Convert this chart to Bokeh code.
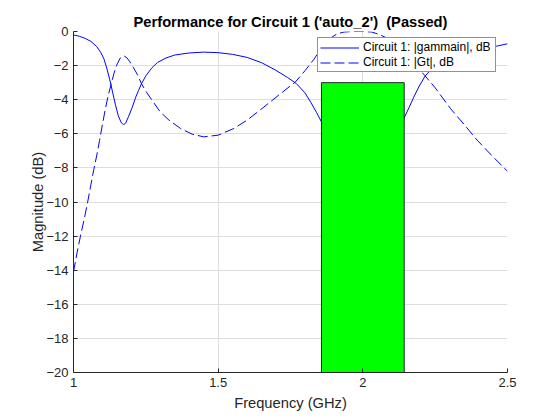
from bokeh.plotting import figure
from bokeh.models import Range1d, FixedTicker, Legend, LegendItem, ColumnDataSource
from bokeh.embed import file_html
from bokeh.resources import INLINE

# |gammain| in dB
freq_gammain = [1.00, 1.02, 1.04, 1.06, 1.08, 1.095, 1.105, 1.115, 1.125, 1.135, 1.145,
                1.155, 1.165, 1.173, 1.180, 1.190, 1.203, 1.215, 1.225, 1.235, 1.25,
                1.27, 1.29, 1.32, 1.35, 1.40, 1.45, 1.50, 1.55, 1.60, 1.65, 1.70, 1.74,
                1.77, 1.80, 1.82, 1.84, 1.857, 1.90, 1.95, 2.00, 2.05, 2.10, 2.142,
                2.16, 2.176, 2.195, 2.215, 2.24, 2.28, 2.33, 2.38, 2.43, 2.465, 2.50]
gammain_db = [-0.20, -0.28, -0.40, -0.58, -0.88, -1.25, -1.60, -2.15, -2.80, -3.55, -4.30,
              -4.95, -5.35, -5.46, -5.38, -5.00, -4.45, -3.85, -3.45, -3.06, -2.60,
              -2.15, -1.82, -1.55, -1.38, -1.26, -1.21, -1.24, -1.34, -1.52, -1.83, -2.28, -2.70,
              -3.05, -3.60, -4.15, -4.75, -5.30, -6.90, -8.30, -8.80, -8.20, -6.80, -5.10,
              -4.45, -3.85, -3.20, -2.62, -2.15, -1.70, -1.32, -1.10, -0.95, -0.85, -0.72]

# |Gt| in dB
freq_gt = [1.00, 1.012, 1.024, 1.037, 1.049, 1.06, 1.07, 1.08, 1.09, 1.10, 1.11, 1.12,
           1.13, 1.14, 1.151, 1.162, 1.174, 1.185, 1.195, 1.203, 1.22, 1.235, 1.25, 1.27,
           1.30, 1.33, 1.37, 1.41, 1.45, 1.50, 1.554, 1.60, 1.658, 1.71, 1.767, 1.80,
           1.83, 1.86, 1.885, 1.91, 1.935, 1.97, 2.00, 2.03, 2.055, 2.08, 2.10, 2.13,
           2.16, 2.19, 2.215, 2.25, 2.303, 2.35, 2.395, 2.45, 2.50]
gt_db = [-14.10, -13.0, -12.0, -11.0, -10.0, -9.0, -8.1, -7.3, -6.4, -5.45, -4.55, -3.75,
         -3.10, -2.45, -1.90, -1.55, -1.42, -1.55, -1.78, -1.99, -2.50, -3.06, -3.50, -4.00,
         -4.72, -5.20, -5.69, -6.02, -6.18, -6.08, -5.69, -5.20, -4.43, -3.72, -2.96, -2.30,
         -1.65, -0.90, -0.42, -0.15, -0.03, 0.0, 0.0, -0.03, -0.16, -0.36, -0.60, -1.05,
         -1.55, -2.10, -2.60, -3.30, -4.52, -5.45, -6.37, -7.35, -8.20]

# pass band spec (green box)
spec_left = [1.857]
spec_right = [2.143]
spec_top = [-3.0]
spec_bottom = [-20.0]

x_ticks = [1, 1.5, 2, 2.5]
x_tick_labels = ["1", "1.5", "2", "2.5"]
y_ticks = [0, -2, -4, -6, -8, -10, -12, -14, -16, -18, -20]

FONT = "Liberation Sans"
TXT = "#262626"

p = figure(width=552, height=413, output_backend="svg", toolbar_location=None,
           x_range=Range1d(1, 2.5), y_range=Range1d(-20, 0),
           min_border_left=73, min_border_right=45, min_border_top=31, min_border_bottom=40,
           title="Performance for Circuit 1 ('auto_2') \u00a0(Passed)")
p.outline_line_color = None
p.background_fill_color = "white"
p.border_fill_color = "white"

p.title.text_font = FONT
p.title.text_font_size = "14.7px"
p.title.text_font_style = "bold"
p.title.text_color = "black"
p.title.align = "center"
p.title.standoff = 3

r1 = p.line(freq_gammain, gammain_db, line_color="#0000ff", line_width=1)
r2 = p.line(freq_gt, gt_db, line_color="#0000ff", line_width=1, line_dash="10 4")

src = ColumnDataSource(dict(left=spec_left, right=spec_right, top=spec_top, bottom=spec_bottom))
p.quad(left="left", right="right", top="top", bottom="bottom", source=src,
       fill_color="#00ff00", line_color="#262626", line_width=1)

for ax in (p.xaxis[0], p.yaxis[0]):
    ax.axis_line_color = TXT
    ax.major_tick_line_color = TXT
    ax.major_tick_in = 4
    ax.major_tick_out = 0
    ax.minor_tick_line_color = None
    ax.major_label_text_font = FONT
    ax.major_label_text_font_size = "13px"
    ax.major_label_text_color = TXT
    ax.axis_label_text_font = FONT
    ax.axis_label_text_font_size = "14.7px"
    ax.axis_label_text_font_style = "normal"
    ax.axis_label_text_color = TXT
    ax.major_label_standoff = 5

p.xaxis.axis_label_standoff = 5
p.yaxis.axis_label_standoff = -3

p.xaxis.ticker = FixedTicker(ticks=x_ticks)
p.xaxis.major_label_overrides = {t: l for t, l in zip(x_ticks, x_tick_labels)}
p.yaxis.ticker = FixedTicker(ticks=y_ticks)
p.xaxis.axis_label = "Frequency (GHz)"
p.yaxis.axis_label = "Magnitude (dB)"

p.grid.grid_line_color = "#dedede"
p.grid.grid_line_width = 1

legend = Legend(items=[LegendItem(label="Circuit 1: |gammain|, dB", renderers=[r1]),
                       LegendItem(label="Circuit 1: |Gt|, dB", renderers=[r2])],
                location=(244, 300))
legend.label_text_font = FONT
legend.label_text_font_size = "12px"
legend.label_text_color = "black"
legend.border_line_color = "#262626"
legend.border_line_width = 1
legend.background_fill_color = "white"
legend.background_fill_alpha = 1
legend.padding = 2
legend.spacing = 1
legend.margin = 0
legend.glyph_width = 39
legend.glyph_height = 13
legend.label_height = 13
legend.label_width = 130
legend.label_standoff = 4
p.add_layout(legend)

open("out.html", "w").write(file_html(p, INLINE))
